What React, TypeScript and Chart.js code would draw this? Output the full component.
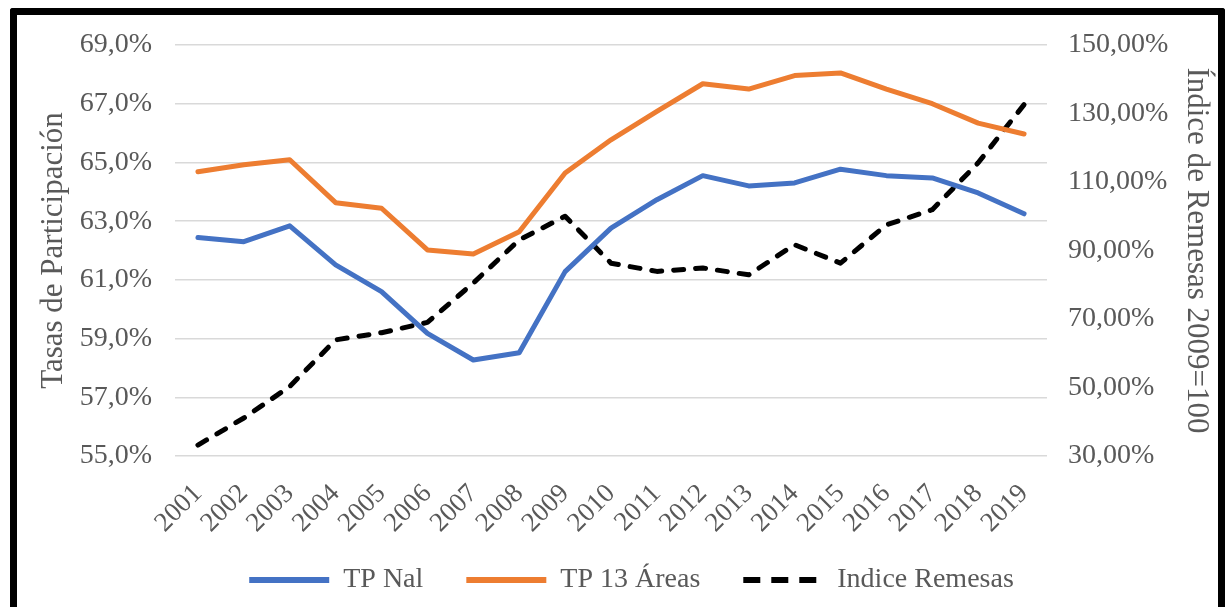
import React, { useEffect, useRef } from "react";
import { Chart, registerables } from "chart.js";

Chart.register(...registerables);

const years = ["2001","2002","2003","2004","2005","2006","2007","2008","2009","2010","2011","2012","2013","2014","2015","2016","2017","2018","2019"];
const tpNal = [62.44, 62.30, 62.84, 61.51, 60.60, 59.18, 58.27, 58.52, 61.28, 62.76, 63.73, 64.55, 64.20, 64.30, 64.77, 64.55, 64.47, 63.96, 63.25];
const tp13Areas = [64.68, 64.92, 65.09, 63.63, 63.44, 62.02, 61.88, 62.64, 64.64, 65.77, 66.74, 67.68, 67.50, 67.96, 68.05, 67.50, 67.00, 66.34, 65.97];
const indiceRemesas = [33.2, 41.1, 50.3, 63.9, 66.0, 69.0, 80.5, 93.1, 100.0, 86.3, 83.9, 84.9, 82.9, 91.7, 86.3, 97.5, 101.9, 115.6, 132.6];

const seriesNames = ["TP Nal", "TP 13 Áreas", "Indice Remesas"];
const leftTitle = "Tasas de Participación";
const rightTitle = "Índice de Remesas 2009=100";

const FONT = "'Liberation Serif', 'Times New Roman', serif";
const TEXT = "#595959";
const GRID = "#d9d9d9";

Chart.defaults.font.family = FONT;

export default function App() {
  const ref = useRef<HTMLCanvasElement | null>(null);

  useEffect(() => {
    if (!ref.current) return;
    const layoutTweak = {
      id: "layoutTweak",
      afterLayout(chart: any) {
        if (chart.legend) {
          chart.legend.left += 17;
          chart.legend.right += 17;
        }
        if (chart.scales && chart.scales.x) {
          // let the rotated year labels extend a bit lower without being clipped
          chart.scales.x.bottom += 30;
        }
      },
    };
    const chart = new Chart(ref.current, {
      type: "line",
      data: {
        labels: years,
        datasets: [
          {
            label: seriesNames[0],
            data: tpNal,
            borderColor: "#4472C4",
            backgroundColor: "#4472C4",
            borderWidth: 5,
            pointRadius: 0,
            tension: 0,
            borderCapStyle: "round",
            borderJoinStyle: "round",
            yAxisID: "y",
          },
          {
            label: seriesNames[1],
            data: tp13Areas,
            borderColor: "#ED7D31",
            backgroundColor: "#ED7D31",
            borderWidth: 5,
            pointRadius: 0,
            tension: 0,
            borderCapStyle: "round",
            borderJoinStyle: "round",
            yAxisID: "y",
          },
          {
            label: seriesNames[2],
            data: indiceRemesas,
            borderColor: "#000000",
            backgroundColor: "#000000",
            borderWidth: 5,
            borderDash: [10, 12],
            pointRadius: 0,
            tension: 0,
            borderCapStyle: "round",
            borderJoinStyle: "round",
            yAxisID: "y1",
          },
        ],
      },
      options: {
        responsive: false,
        animation: false,
        devicePixelRatio: 1,
        layout: { padding: { left: 10, right: 9, top: 45, bottom: 3 } },
        plugins: {
          tooltip: { enabled: false },
          legend: {
            position: "bottom",
            labels: {
              usePointStyle: true,
              pointStyle: "line",
              pointStyleWidth: 80,
              padding: 43,
              color: TEXT,
              font: { family: FONT, size: 28 },
              generateLabels: (c: any) => {
                const items = Chart.defaults.plugins.legend.labels.generateLabels(c);
                items.forEach((it: any) => { it.lineWidth = 6; });
                if (items[2]) items[2].lineDash = [17, 11];
                return items;
              },
            },
          },
        },
        scales: {
          x: {
            offset: true,
            grid: { display: false, drawTicks: false },
            border: { display: false },
            ticks: {
              autoSkip: false,
              minRotation: 45,
              maxRotation: 45,
              padding: 22,
              color: TEXT,
              font: { family: FONT, size: 27 },
            },
            afterFit: (s: any) => { s.height = 67; },
          },
          y: {
            position: "left",
            min: 55,
            max: 69,
            ticks: {
              stepSize: 2,
              padding: 23,
              color: TEXT,
              font: { family: FONT, size: 28 },
              callback: (v: any) => Number(v).toFixed(1).replace(".", ",") + "%",
            },
            grid: { color: GRID, lineWidth: 1.5, drawTicks: false },
            border: { display: false },
            title: {
              display: true,
              text: leftTitle,
              color: TEXT,
              font: { family: FONT, size: 31 },
              padding: { top: 25, bottom: 0 },
            },
            afterFit: (s: any) => { s.width = 165; },
          },
          y1: {
            position: "right",
            min: 30,
            max: 150,
            ticks: {
              stepSize: 20,
              padding: 21,
              color: TEXT,
              font: { family: FONT, size: 28 },
              callback: (v: any) => Number(v).toFixed(2).replace(".", ",") + "%",
            },
            grid: { drawOnChartArea: false, drawTicks: false },
            border: { display: false },
            title: {
              display: true,
              text: rightTitle,
              color: TEXT,
              font: { family: FONT, size: 31 },
              padding: { top: 4, bottom: 0 },
            },
            afterFit: (s: any) => { s.width = 172; },
          },
        },
      },
      plugins: [layoutTweak],
    } as any);
    return () => chart.destroy();
  }, []);

  return (
    <div style={{ position: "fixed", left: 0, top: 0, width: 1228, height: 607, overflow: "hidden", background: "#fff" }}>
      <div
        style={{
          position: "absolute",
          left: 10,
          top: 8,
          width: 1215,
          height: 599,
          border: "7px solid #000",
          borderBottom: "none",
          borderTopLeftRadius: 3,
          borderTopRightRadius: 3,
          boxSizing: "border-box",
        }}
      />
      <canvas ref={ref} width={1228} height={607} style={{ position: "absolute", left: 0, top: 0, display: "block" }} />
    </div>
  );
}
